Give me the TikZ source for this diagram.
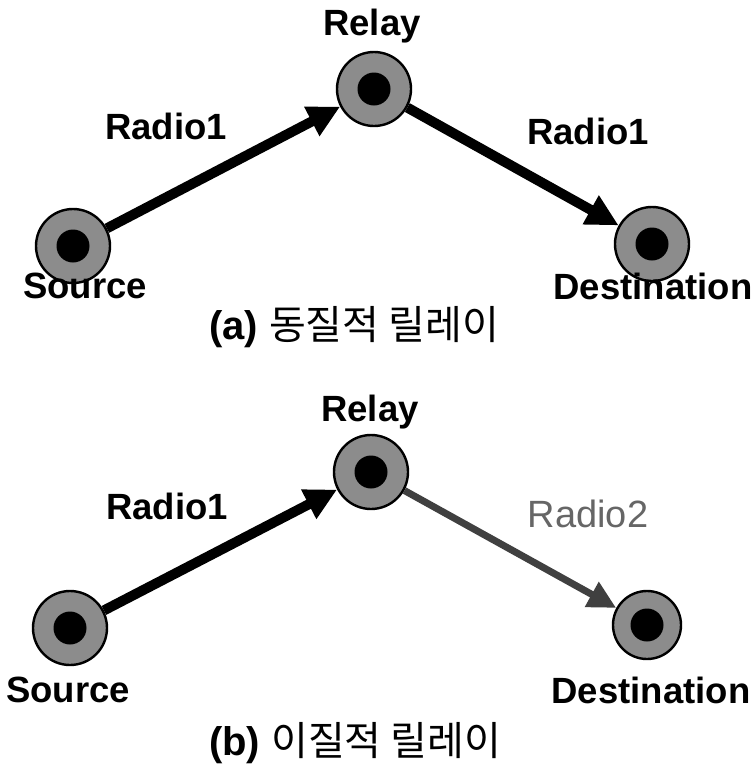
\documentclass[tikz,border=0pt]{standalone}
\usepackage{fontspec}
\setmainfont{Liberation Sans}
\newfontfamily\kr{Noto Sans CJK KR}
\usetikzlibrary{arrows.meta}
\begin{document}
\begin{tikzpicture}[x=1pt,y=-1pt,
  relaynode/.style={circle,draw=black,line width=2.4pt,fill=black!45,minimum size=74pt,inner sep=0pt,
    path picture={\fill[black] (path picture bounding box.center) circle (16.5pt);}},
  smallnode/.style={relaynode,minimum size=68pt},
  lbl/.style={font=\bfseries\fontsize{36.5}{40}\selectfont, inner sep=0pt},
  graylbl/.style={font=\fontsize{38}{40}\selectfont, inner sep=0pt,text=black!60},
  captext/.style={font=\fontsize{40}{44}\selectfont, inner sep=0pt},
  arr/.style={line width=10pt,-{Triangle[length=32pt,width=31pt]}},
  arrgray/.style={line width=7pt,draw=black!75,-{Triangle[length=28pt,width=27pt]}},
]
\useasboundingbox (0,0) rectangle (754,766);
\fill[white] (0,0) rectangle (754,766);

% ---- panel (a)
\node[relaynode] (sA) at (73,246) {};
\node[relaynode] (rA) at (374,89) {};
\node[relaynode] (dA) at (652,244) {};
\node[lbl] (trA) at (372,26) {Relay};
\node[lbl] (tsA) at (85,286) {Source};
\node[lbl] (tdA) at (653,286) {Destination};
\node[lbl] (l1A) at (166,126) {Radio1};
\node[lbl] (l2A) at (588,131) {Radio1};
\node[captext] (cA) at (354,327) {{\bfseries (a)} {\kr 동질적 릴레이}};
\draw[arr] (sA) -- (rA);
\draw[arr] (rA) -- (dA);

% ---- panel (b)
\node[relaynode] (sB) at (70,628) {};
\node[relaynode] (rB) at (371,472) {};
\node[smallnode] (dB) at (647,625) {};
\node[lbl] (trB) at (370,412) {Relay};
\node[lbl] (tsB) at (68,690) {Source};
\node[lbl] (tdB) at (651,690) {Destination};
\node[lbl] (l1B) at (167,506) {Radio1};
\node[graylbl] (l2B) at (588,514) {Radio2};
\node[captext] (cB) at (355,743) {{\bfseries (b)} {\kr 이질적 릴레이}};
\draw[arr] (sB) -- (rB);
\draw[arrgray] (rB) -- (dB);
\end{tikzpicture}
\end{document}
